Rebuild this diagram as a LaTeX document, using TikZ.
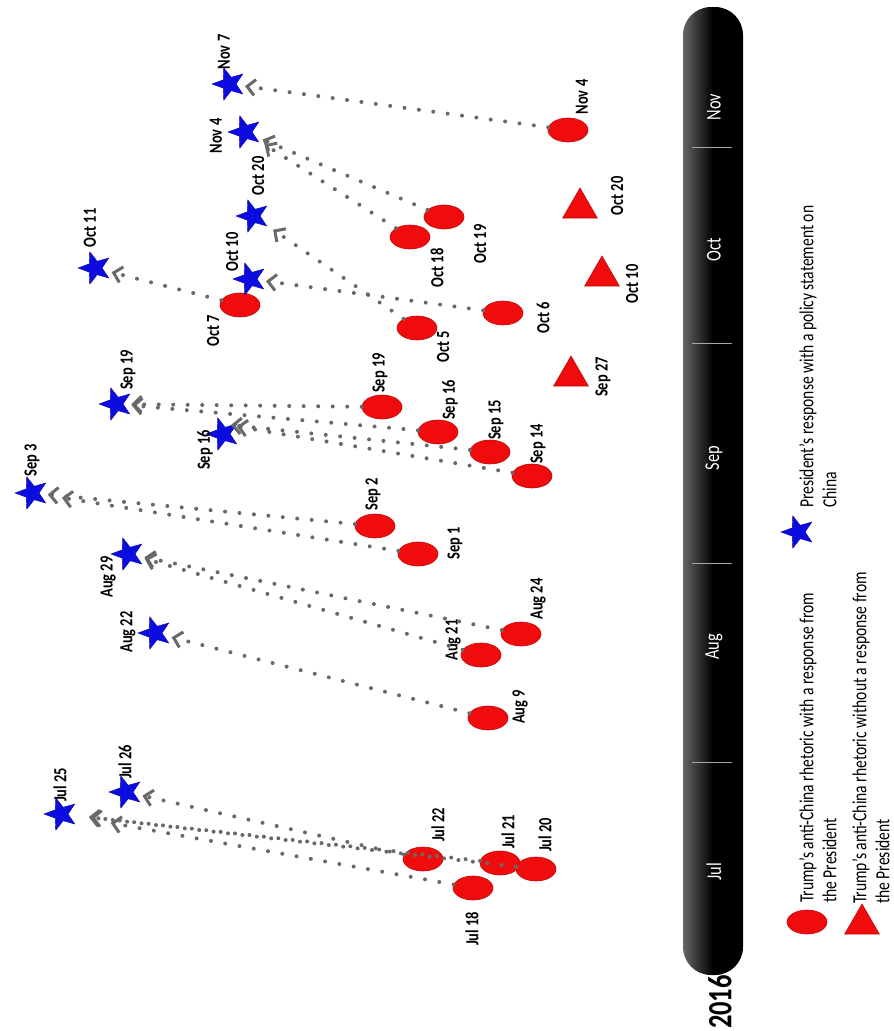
\documentclass[tikz,border=0pt]{standalone}
\usepackage{fontspec}
\setmainfont{Carlito}
\newfontfamily\labf[FakeStretch=0.78]{Carlito}
\usetikzlibrary{shapes.geometric,arrows.meta}
\definecolor{pred}{RGB}{240,12,12}
\definecolor{pblue}{RGB}{12,12,225}
\definecolor{arrgray}{RGB}{105,105,105}
\begin{document}
\begin{tikzpicture}[x=1pt,y=-1pt,
  ev/.style={ellipse, fill=pred, draw=pred!80!black, line width=0.6pt, minimum width=40pt, minimum height=24pt, inner sep=0pt},
  resp/.style={star, star points=5, star point ratio=2.4, fill=pblue, draw=pblue!70!black, line width=0.4pt, minimum size=34pt, inner sep=0pt, shape border rotate=90},
  noresp/.style={regular polygon, regular polygon sides=3, fill=pred, draw=pred!80!black, line width=0.6pt, minimum size=40pt, inner sep=0pt},
  lab/.style={rotate=90, font=\labf\bfseries\fontsize{18.5}{20}\selectfont, inner sep=0pt},
  conn/.style={draw=arrgray, line width=4pt, dash pattern=on 0pt off 14.5pt, line cap=round, -{Straight Barb[length=8pt,width=16pt,line width=3pt]}, shorten >=8pt},
  month/.style={rotate=90, text=white, font=\labf\fontsize{21}{24}\selectfont, inner sep=0pt},
  legtext/.style={rotate=90, font=\labf\fontsize{20}{23}\selectfont, align=left, inner sep=0pt, anchor=north west},
  divider/.style={draw=gray!70, line width=0.8pt}
]
\useasboundingbox (0,0) rectangle (894,1031);

% timeline bar
\shade[left color=black!60, right color=black, middle color=black, rounded corners=28pt] (683,7) rectangle (743,975);
\draw[divider] (692,147) -- (732,147);
\draw[divider] (692,343) -- (732,343);
\draw[divider] (692,563) -- (732,563);
\draw[divider] (692,762) -- (732,762);
\node[month] (mNov) at (714,107) {Nov};
\node[month] (mOct) at (714,250) {Oct};
\node[month] (mSep) at (714,458) {Sep};
\node[month] (mAug) at (714,647) {Aug};
\node[month] (mJul) at (714,872) {Jul};
\node[rotate=90, font=\labf\bfseries\fontsize{34}{36}\selectfont, inner sep=0pt] (year) at (720,1002) {2016};

% rhetoric events (red ellipses)
\node[ev] (nov4r) at (568,130) {};
\node[ev] (oct19r) at (444,217) {};
\node[ev] (oct18r) at (410,237) {};
\node[ev] (oct7r) at (240,305) {};
\node[ev] (oct5r) at (417,328) {};
\node[ev] (oct6r) at (503,313) {};
\node[ev] (sep19r) at (382,407) {};
\node[ev] (sep16r) at (438,432) {};
\node[ev] (sep15r) at (490,452) {};
\node[ev] (sep14r) at (532,476) {};
\node[ev] (sep2r) at (375,526) {};
\node[ev] (sep1r) at (418,554) {};
\node[ev] (aug24r) at (521,634) {};
\node[ev] (aug21r) at (481,655) {};
\node[ev] (aug9r) at (488,718) {};
\node[ev] (jul22r) at (423,859) {};
\node[ev] (jul18r) at (473,888) {};
\node[ev] (jul21r) at (500,863) {};
\node[ev] (jul20r) at (536,869) {};

\node[lab] (nov4rl) at (582,97) {Nov 4};
\node[lab] (oct19rl) at (480,244) {Oct 19};
\node[lab] (oct18rl) at (437,268) {Oct 18};
\node[lab] (oct7rl) at (213,331) {Oct 7};
\node[lab] (oct5rl) at (443,347) {Oct 5};
\node[lab] (oct6rl) at (543,318) {Oct 6};
\node[lab] (sep19rl) at (380,373) {Sep 19};
\node[lab] (sep16rl) at (450,400) {Sep 16};
\node[lab] (sep15rl) at (496,420) {Sep 15};
\node[lab] (sep14rl) at (538,444) {Sep 14};
\node[lab] (sep2rl) at (373,494) {Sep 2};
\node[lab] (sep1rl) at (455,543) {Sep 1};
\node[lab] (aug24rl) at (538,599) {Aug 24};
\node[lab] (aug21rl) at (453,640) {Aug 21};
\node[lab] (aug9rl) at (520,707) {Aug 9};
\node[lab] (jul22rl) at (438,825) {Jul 22};
\node[lab] (jul21rl) at (508,832) {Jul 21};
\node[lab] (jul20rl) at (545,835) {Jul 20};
\node[lab] (jul18rl) at (472,929) {Jul 18};

% rhetoric without response (triangles)
\node[noresp] (oct20t) at (580,208) {};
\node[noresp] (oct10t) at (602,276) {};
\node[noresp] (sep27t) at (571,376) {};
\node[lab] (oct20tl) at (617,196) {Oct 20};
\node[lab] (oct10tl) at (632,284) {Oct 10};
\node[lab] (sep27tl) at (603,377) {Sep 27};

% presidential responses (stars)
\node[resp] (nov7s) at (229,84) {};
\node[resp] (nov4s) at (245,132) {};
\node[resp] (oct20s) at (253,216) {};
\node[resp] (oct10s) at (250,279) {};
\node[resp] (oct11s) at (95,268) {};
\node[resp] (sep19s) at (116,404) {};
\node[resp] (sep16s) at (223,434) {};
\node[resp] (sep3s) at (32,493) {};
\node[resp] (aug29s) at (128,554) {};
\node[resp] (aug22s) at (155,633) {};
\node[resp] (jul25s) at (61,814) {};
\node[resp] (jul26s) at (126,792) {};

\node[lab] (nov7sl) at (224,52) {Nov 7};
\node[lab] (nov4sl) at (216,136) {Nov 4};
\node[lab] (oct20sl) at (258,176) {Oct 20};
\node[lab] (oct10sl) at (232,252) {Oct 10};
\node[lab] (oct11sl) at (90,228) {Oct 11};
\node[lab] (sep19sl) at (128,370) {Sep 19};
\node[lab] (sep16sl) at (205,450) {Sep 16};
\node[lab] (sep3sl) at (32,460) {Sep 3};
\node[lab] (aug29sl) at (108,577) {Aug 29};
\node[lab] (aug22sl) at (128,632) {Aug 22};
\node[lab] (jul25sl) at (60,785) {Jul 25};
\node[lab] (jul26sl) at (125,762) {Jul 26};

% connectors
\draw[conn] (nov4r) -- (nov7s);
\draw[conn] (oct18r) -- (nov4s);
\draw[conn] (oct19r) -- (nov4s);
\draw[conn] (oct5r) -- (oct20s);
\draw[conn] (oct6r) -- (oct10s);
\draw[conn] (oct7r) -- (oct11s);
\draw[conn] (sep19r) -- (sep19s);
\draw[conn] (sep16r) -- (sep19s);
\draw[conn] (sep15r) -- (sep16s.north);
\draw[conn, shorten >=14pt] (sep14r) -- (sep16s.north);
\draw[conn] (sep2r) -- (sep3s);
\draw[conn, shorten >=22pt] (sep1r) -- (sep3s);
\draw[conn] (aug21r) -- (aug29s);
\draw[conn] (aug24r) -- (aug29s);
\draw[conn] (aug9r) -- (aug22s);
\draw[conn] (jul22r) -- (jul26s);
\draw[conn, shorten >=20pt] (jul21r) -- (jul25s);
\draw[conn, shorten >=22pt] (jul20r) -- (jul25s);
\draw[conn, shorten >=42pt] (jul18r) -- (jul25s);

% legend
\node[resp] (legS) at (798,532) {};
\node[legtext] (legSt) at (799,508) {President’s response with a policy statement on\\China};
\node[ev] (legE) at (807,922) {};
\node[legtext] (legEt) at (799,903) {Trump’s anti-China rhetoric with a response from\\the President};
\node[noresp] (legT) at (862,924) {};
\node[legtext] (legTt) at (852,904) {Trump’s anti-China rhetoric without a response from\\the President};
\end{tikzpicture}
\end{document}
